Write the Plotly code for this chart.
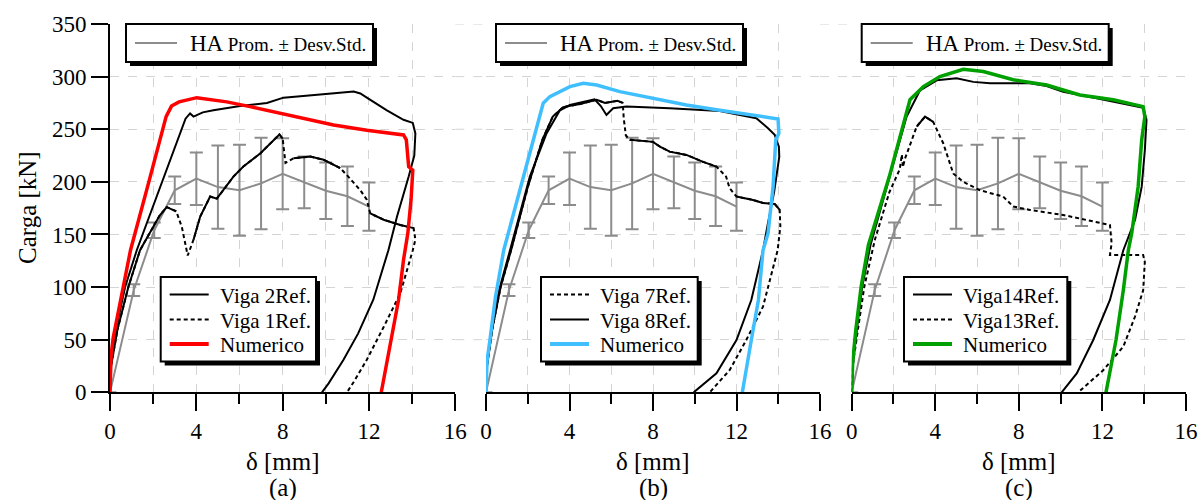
import plotly.graph_objects as go

# ---------------- data ----------------
# average of HA beams (mean +/- std)
mean_x = [0, 1.1, 2.05, 3.0, 4.0, 5.0, 6.0, 7.0, 8.0, 9.0, 10.0, 11.0, 12.0]
mean_y = [0, 97, 154, 192, 203, 195, 192, 198.5, 207.7, 199.5, 191.5, 186.3, 176.5]
std_y = [0, 5.6, 7.4, 13, 25, 39.6, 43.2, 43.5, 33.7, 24.5, 26.8, 28.3, 22.9]

# panel (a)
a_v2_x = [0, 0.05, 0.3, 0.7, 1.24, 1.9, 2.5, 3.0, 3.5, 3.71, 3.87, 4.3, 4.79, 6.03, 7.27, 8.04, 9.0, 10.0, 11.29, 11.6, 11.9,
          12.83, 13.6, 14.03, 14.15, 14.1, 13.84, 13.3, 12.9, 12.2, 11.5, 10.82, 10.13, 9.82]
a_v2_y = [0, 30, 62, 100, 135, 172, 205, 232, 260, 265, 262, 266, 268, 272, 275, 280, 282, 283.5, 285.8, 284, 280,
          268, 259, 256, 246, 225, 205, 167, 135, 88, 56, 31, 8.5, 0]
a_v1_x = [0, 0.05, 0.35, 0.85, 1.39, 1.93, 2.3, 2.63, 3.07, 3.33, 3.6, 3.87, 4.18, 4.64, 4.95, 5.72, 6.18, 6.96, 7.5, 7.85,
          8.0, 8.13, 8.5, 9.28, 9.9, 10.67, 11.13, 11.6, 11.9, 12.06, 12.68, 13.45, 14.07, 14.15, 14.03, 13.45, 12.68,
          11.9, 11.3, 10.98]
a_v1_y = [0, 25, 60, 100, 135, 155, 168, 176, 172, 157, 130, 145, 167, 186, 184, 205, 214.5, 227, 238, 245,
          241, 218, 222.4, 224, 221, 213, 203, 192, 183, 170, 164, 159, 156, 145, 135, 94, 62,
          31, 10, 0]
a_num_x = [0, 0.05, 0.15, 0.95, 1.8, 2.6, 2.85, 3.2, 4.02, 5.41, 6.49, 7.88, 9.28, 10.36, 11.9, 13.6, 13.73, 13.84, 14.03,
           13.95, 13.8, 13.6, 13.37, 13.07, 12.76, 12.57]
a_num_y = [0, 35, 52, 135, 200, 262, 272, 276, 280, 276, 271.5, 265, 259, 254, 249, 244.6, 240, 214.5, 211,
           183, 151, 125.8, 87.7, 56, 24.3, 0]

# panel (b)
b_v7_x = [0, 0.05, 0.3, 0.7, 1.2, 2.0, 2.7, 3.2, 3.7, 4.5, 5.3, 5.7, 6.3, 6.55, 6.6, 6.7, 6.89, 8.0, 8.33, 8.8, 9.6,
          10.4, 11.04, 11.5, 11.67, 12.0, 12.79, 13.27, 13.83, 14.07, 14.1, 13.97, 13.27, 12.47, 11.67, 10.72]
b_v7_y = [0, 25, 60, 100, 135, 195, 240, 262, 271, 274, 278, 275, 277, 275, 260, 244, 240, 238, 233.5, 228.7, 225.6,
          219, 214.5, 205, 194, 186, 182.8, 180, 179, 173.3, 157.5, 135, 81.4, 49.7, 21, 0]
b_v8_x = [0, 0.05, 0.25, 0.6, 1.15, 2.1, 2.9, 3.54, 4.02, 4.66, 5.2, 5.5, 5.77, 6.09, 6.73, 8.8, 11.2, 12.95, 13.51,
          13.83, 14.03, 14.05, 13.8, 13.5, 13.27, 12.71, 12.0, 11.04, 9.95]
b_v8_y = [0, 30, 55, 95, 135, 205, 246, 268, 273, 276, 278.5, 272, 263.6, 270, 271.5, 270, 267.4, 260.5, 251,
          244.6, 233.5, 224, 190, 160, 135, 87.7, 49.7, 18, 0]
b_num_x = [0, 0.05, 0.19, 0.45, 0.85, 1.83, 2.74, 3.06, 4.02, 4.66, 5.3, 6.41, 8.0, 9.6, 11.2, 12.79, 13.99, 14.03,
           13.88, 13.75, 13.51, 13.27, 13.05, 12.71, 12.47, 12.28]
b_num_y = [0, 30, 50, 90, 135, 208, 274.7, 281, 290.5, 293.7, 292, 285.7, 279.5, 273, 268, 263.6, 259.8, 246,
           240, 195, 151, 135, 87.7, 49.7, 21, 0]

# panel (c)
c_v14_x = [0, 0.05, 0.25, 0.5, 0.9, 1.67, 2.63, 3.27, 4.07, 5.02, 5.82, 6.62, 8.53, 9.33, 10.12, 11.72, 13.0, 13.95,
           14.11, 14.03, 13.88, 13.56, 13.0, 12.36, 11.56, 10.77, 10.05]
c_v14_y = [0, 25, 60, 100, 140, 195, 262, 287, 296.5, 298.5, 295, 293.7, 293.7, 291, 285.7, 279.5, 274.7, 270.5,
           259, 230, 195.4, 163.8, 135, 87.7, 49.7, 18, 0]
c_v13_x = [0, 0.05, 0.3, 0.6, 1.11, 1.8, 2.3, 2.4, 2.45, 2.55, 3.11, 3.51, 3.9, 4.38, 4.86, 5.34, 6.14, 7.25, 7.73,
           8.53, 10.12, 11.56, 12.36, 12.44, 12.36, 13.95, 14.03, 13.95, 13.56, 13.0, 12.04, 10.84]
c_v13_y = [0, 25, 60, 100, 145, 190, 212, 226, 214, 222, 252.5, 262, 257, 236.7, 208, 200, 192, 186, 176.5,
           173.3, 168.5, 162, 159, 141.6, 130.5, 130.5, 124, 97, 72, 43.4, 21, 0]
c_num_x = [0, 0.05, 0.2, 0.45, 0.8, 1.8, 2.79, 3.43, 4.22, 5.34, 6.3, 7.73, 9.33, 10.92, 12.52, 13.95, 14.03, 13.88,
           13.71, 13.4, 13.24, 13.0, 12.65, 12.36, 12.17]
c_num_y = [0, 30, 60, 100, 140, 205, 278, 290.5, 300, 307, 304.8, 297, 292, 282.6, 278, 271.5, 262, 240,
           195.4, 151, 135, 97, 49.7, 21, 0]

x_ticks = [0, 4, 8, 12, 16]
y_ticks = [0, 50, 100, 150, 200, 250, 300, 350]
panel_labels = ["(a)", "(b)", "(c)"]
legend_top = "HA"
legend_top_small = "Prom. ± Desv.Std."

# ---------------- styling ----------------
W, H = 1200, 500
FONT = "Liberation Serif, Times New Roman, serif"
GRAY = "#8c8c8c"
GRID = "#d4d4d4"
DOT = "4px,3px"


def px(x):
    return x / W


def py(y):
    return 1 - y / H


panel_px = [(110, 455.3), (486, 820), (851.7, 1186)]
y_top_px, y_bot_px = 24, 392.3

# index ranges of dotted curves where dense data makes the line look continuous
dense_ranges = {"a": [(0, 8), (11, 20), (22, 25), (29, 32)],
                "b": [(0, 13), (16, 22), (25, 29)],
                "c": [(10, 12)]}

fig = go.Figure()

panels = [
    dict(key="a", lines=[(a_v2_x, a_v2_y, "black", 2, "solid", "Viga 2Ref."),
                         (a_v1_x, a_v1_y, "black", 2, DOT, "Viga 1Ref."),
                         (a_num_x, a_num_y, "#ff0000", 3.5, "solid", "Numerico")]),
    dict(key="b", lines=[(b_v7_x, b_v7_y, "black", 2, DOT, "Viga 7Ref."),
                         (b_v8_x, b_v8_y, "black", 2, "solid", "Viga 8Ref."),
                         (b_num_x, b_num_y, "#40bfff", 3.5, "solid", "Numerico")]),
    dict(key="c", lines=[(c_v14_x, c_v14_y, "black", 2, "solid", "Viga14Ref."),
                         (c_v13_x, c_v13_y, "black", 2, DOT, "Viga13Ref."),
                         (c_num_x, c_num_y, "#00a000", 3.5, "solid", "Numerico")]),
]

shapes = []
annotations = []

for i, p in enumerate(panels):
    xa = "x" if i == 0 else f"x{i+1}"
    ya = "y" if i == 0 else f"y{i+1}"
    # mean +/- std
    fig.add_trace(go.Scatter(x=mean_x, y=mean_y, mode="lines", line=dict(color=GRAY, width=2),
                             error_y=dict(type="data", array=std_y, color=GRAY, thickness=2, width=6.5),
                             xaxis=xa, yaxis=ya, showlegend=False))
    for (lx, ly, col, w, dash, name) in p["lines"]:
        fig.add_trace(go.Scatter(x=lx, y=ly, mode="lines", line=dict(color=col, width=w, dash=dash),
                                 xaxis=xa, yaxis=ya, showlegend=False, name=name))
        if dash != "solid":
            sx, sy = [], []
            for (s, e) in dense_ranges[p["key"]]:
                sx += list(lx[s:e + 1]) + [None]
                sy += list(ly[s:e + 1]) + [None]
            fig.add_trace(go.Scatter(x=sx, y=sy, mode="lines", line=dict(color=col, width=w),
                                     xaxis=xa, yaxis=ya, showlegend=False, hoverinfo="skip"))

    x0p, x1p = panel_px[i]
    axkey = "xaxis" if i == 0 else f"xaxis{i+1}"
    aykey = "yaxis" if i == 0 else f"yaxis{i+1}"
    fig.layout[axkey] = dict(
        domain=[px(x0p), px(x1p)], range=[0, 16], anchor=ya, automargin=False,
        tickvals=x_ticks, ticks="outside", ticklen=17, tickwidth=2, tickcolor="black",
        showline=True, linecolor="black", linewidth=2, zeroline=False,
        showgrid=True, gridcolor=GRID, griddash="dash", gridwidth=1,
        minor=dict(dtick=2, tick0=0, ticks="outside", ticklen=10, tickwidth=2, tickcolor="black",
                   showgrid=True, gridcolor=GRID, griddash="dash", gridwidth=1),
        tickfont=dict(family=FONT, size=23, color="black"), fixedrange=True,
    )
    ydict = dict(
        domain=[py(y_bot_px), py(y_top_px)], range=[0, 350], anchor=xa, automargin=False,
        tickvals=y_ticks, zeroline=False,
        showgrid=True, gridcolor=GRID, griddash="dash", gridwidth=1,
        tickfont=dict(family=FONT, size=23, color="black"), fixedrange=True,
    )
    if i == 0:
        ydict.update(ticks="outside", ticklen=17, tickwidth=2, tickcolor="black", ticksuffix="\u2009\u2009",
                     showline=True, linecolor="black", linewidth=2, showticklabels=True)
    else:
        ydict.update(ticks="", showline=False, showticklabels=False)
    fig.layout[aykey] = ydict

    # axis title and panel label
    annotations.append(dict(x=px(x0p + (x1p - x0p) / 2), y=py(461), xref="paper", yref="paper",
                            text="δ [mm]", showarrow=False, xanchor="center", yanchor="middle",
                            font=dict(family=FONT, size=25, color="black")))
    annotations.append(dict(x=px(x0p + (x1p - x0p) / 2), y=py(488), xref="paper", yref="paper",
                            text=panel_labels[i], showarrow=False, xanchor="center", yanchor="middle",
                            font=dict(family=FONT, size=25, color="black")))

    # ---- top legend box ----
    bx0 = x0p + 16 if i == 0 else x0p + 10
    bx1 = bx0 + 247
    by0, by1 = 24, 62
    shapes.append(dict(type="rect", xref="paper", yref="paper", x0=px(bx0 + 4), x1=px(bx1 + 4),
                       y0=py(by1 + 4), y1=py(by0 + 4), fillcolor="black", line=dict(width=0)))
    shapes.append(dict(type="rect", xref="paper", yref="paper", x0=px(bx0), x1=px(bx1),
                       y0=py(by1), y1=py(by0), fillcolor="white", line=dict(color="black", width=2)))
    shapes.append(dict(type="line", xref="paper", yref="paper", x0=px(bx0 + 9), x1=px(bx0 + 51),
                       y0=py(43), y1=py(43), line=dict(color=GRAY, width=2)))
    annotations.append(dict(x=px(bx0 + 62), y=py(44), xref="paper", yref="paper",
                            text=f"{legend_top} <span style='font-size:19px'>{legend_top_small}</span>",
                            showarrow=False, xanchor="left", yanchor="middle",
                            font=dict(family=FONT, size=23, color="black")))

    # ---- bottom legend box ----
    lb0 = [160.7, 541, 904][i]
    lb1 = lb0 + [155.3, 156.7, 163.3][i]
    ly0, ly1 = 277, 361.5
    shapes.append(dict(type="rect", xref="paper", yref="paper", x0=px(lb0 + 4), x1=px(lb1 + 4),
                       y0=py(ly1 + 4), y1=py(ly0 + 4), fillcolor="black", line=dict(width=0)))
    shapes.append(dict(type="rect", xref="paper", yref="paper", x0=px(lb0), x1=px(lb1),
                       y0=py(ly1), y1=py(ly0), fillcolor="white", line=dict(color="black", width=2)))
    rows = [294.5, 319.5, 344]
    for r, (lx, ly, col, w, dash, name) in zip(rows, p["lines"]):
        shapes.append(dict(type="line", xref="paper", yref="paper", x0=px(lb0 + 9), x1=px(lb0 + 48),
                           y0=py(r), y1=py(r), line=dict(color=col, width=w + 0.5 if w > 3 else w, dash=dash)))
        annotations.append(dict(x=px(lb0 + 57), y=py(r + 1), xref="paper", yref="paper", text=name,
                                showarrow=False, xanchor="left", yanchor="middle",
                                font=dict(family=FONT, size=21, color="black")))

# dashed grid continues through the gaps between panels
for (g0, g1) in [(panel_px[0][1], panel_px[1][0]), (panel_px[1][1], panel_px[2][0])]:
    for v in y_ticks[1:]:
        shapes.append(dict(type="line", xref="paper", yref="y", x0=px(g0), x1=px(g1), y0=v, y1=v,
                           layer="below", line=dict(color=GRID, width=1, dash="dash")))

annotations.append(dict(x=px(28), y=py(208), xref="paper", yref="paper", text="Carga [kN]",
                        textangle=-90, showarrow=False, xanchor="center", yanchor="middle",
                        font=dict(family=FONT, size=25, color="black")))

fig.update_layout(
    width=W, height=H, margin=dict(l=0, r=0, t=0, b=0, pad=0), template="none",
    font=dict(family=FONT, color="black"),
    paper_bgcolor="white", plot_bgcolor="white",
    shapes=shapes, annotations=annotations, showlegend=False,
)

fig.write_html("out.html")
